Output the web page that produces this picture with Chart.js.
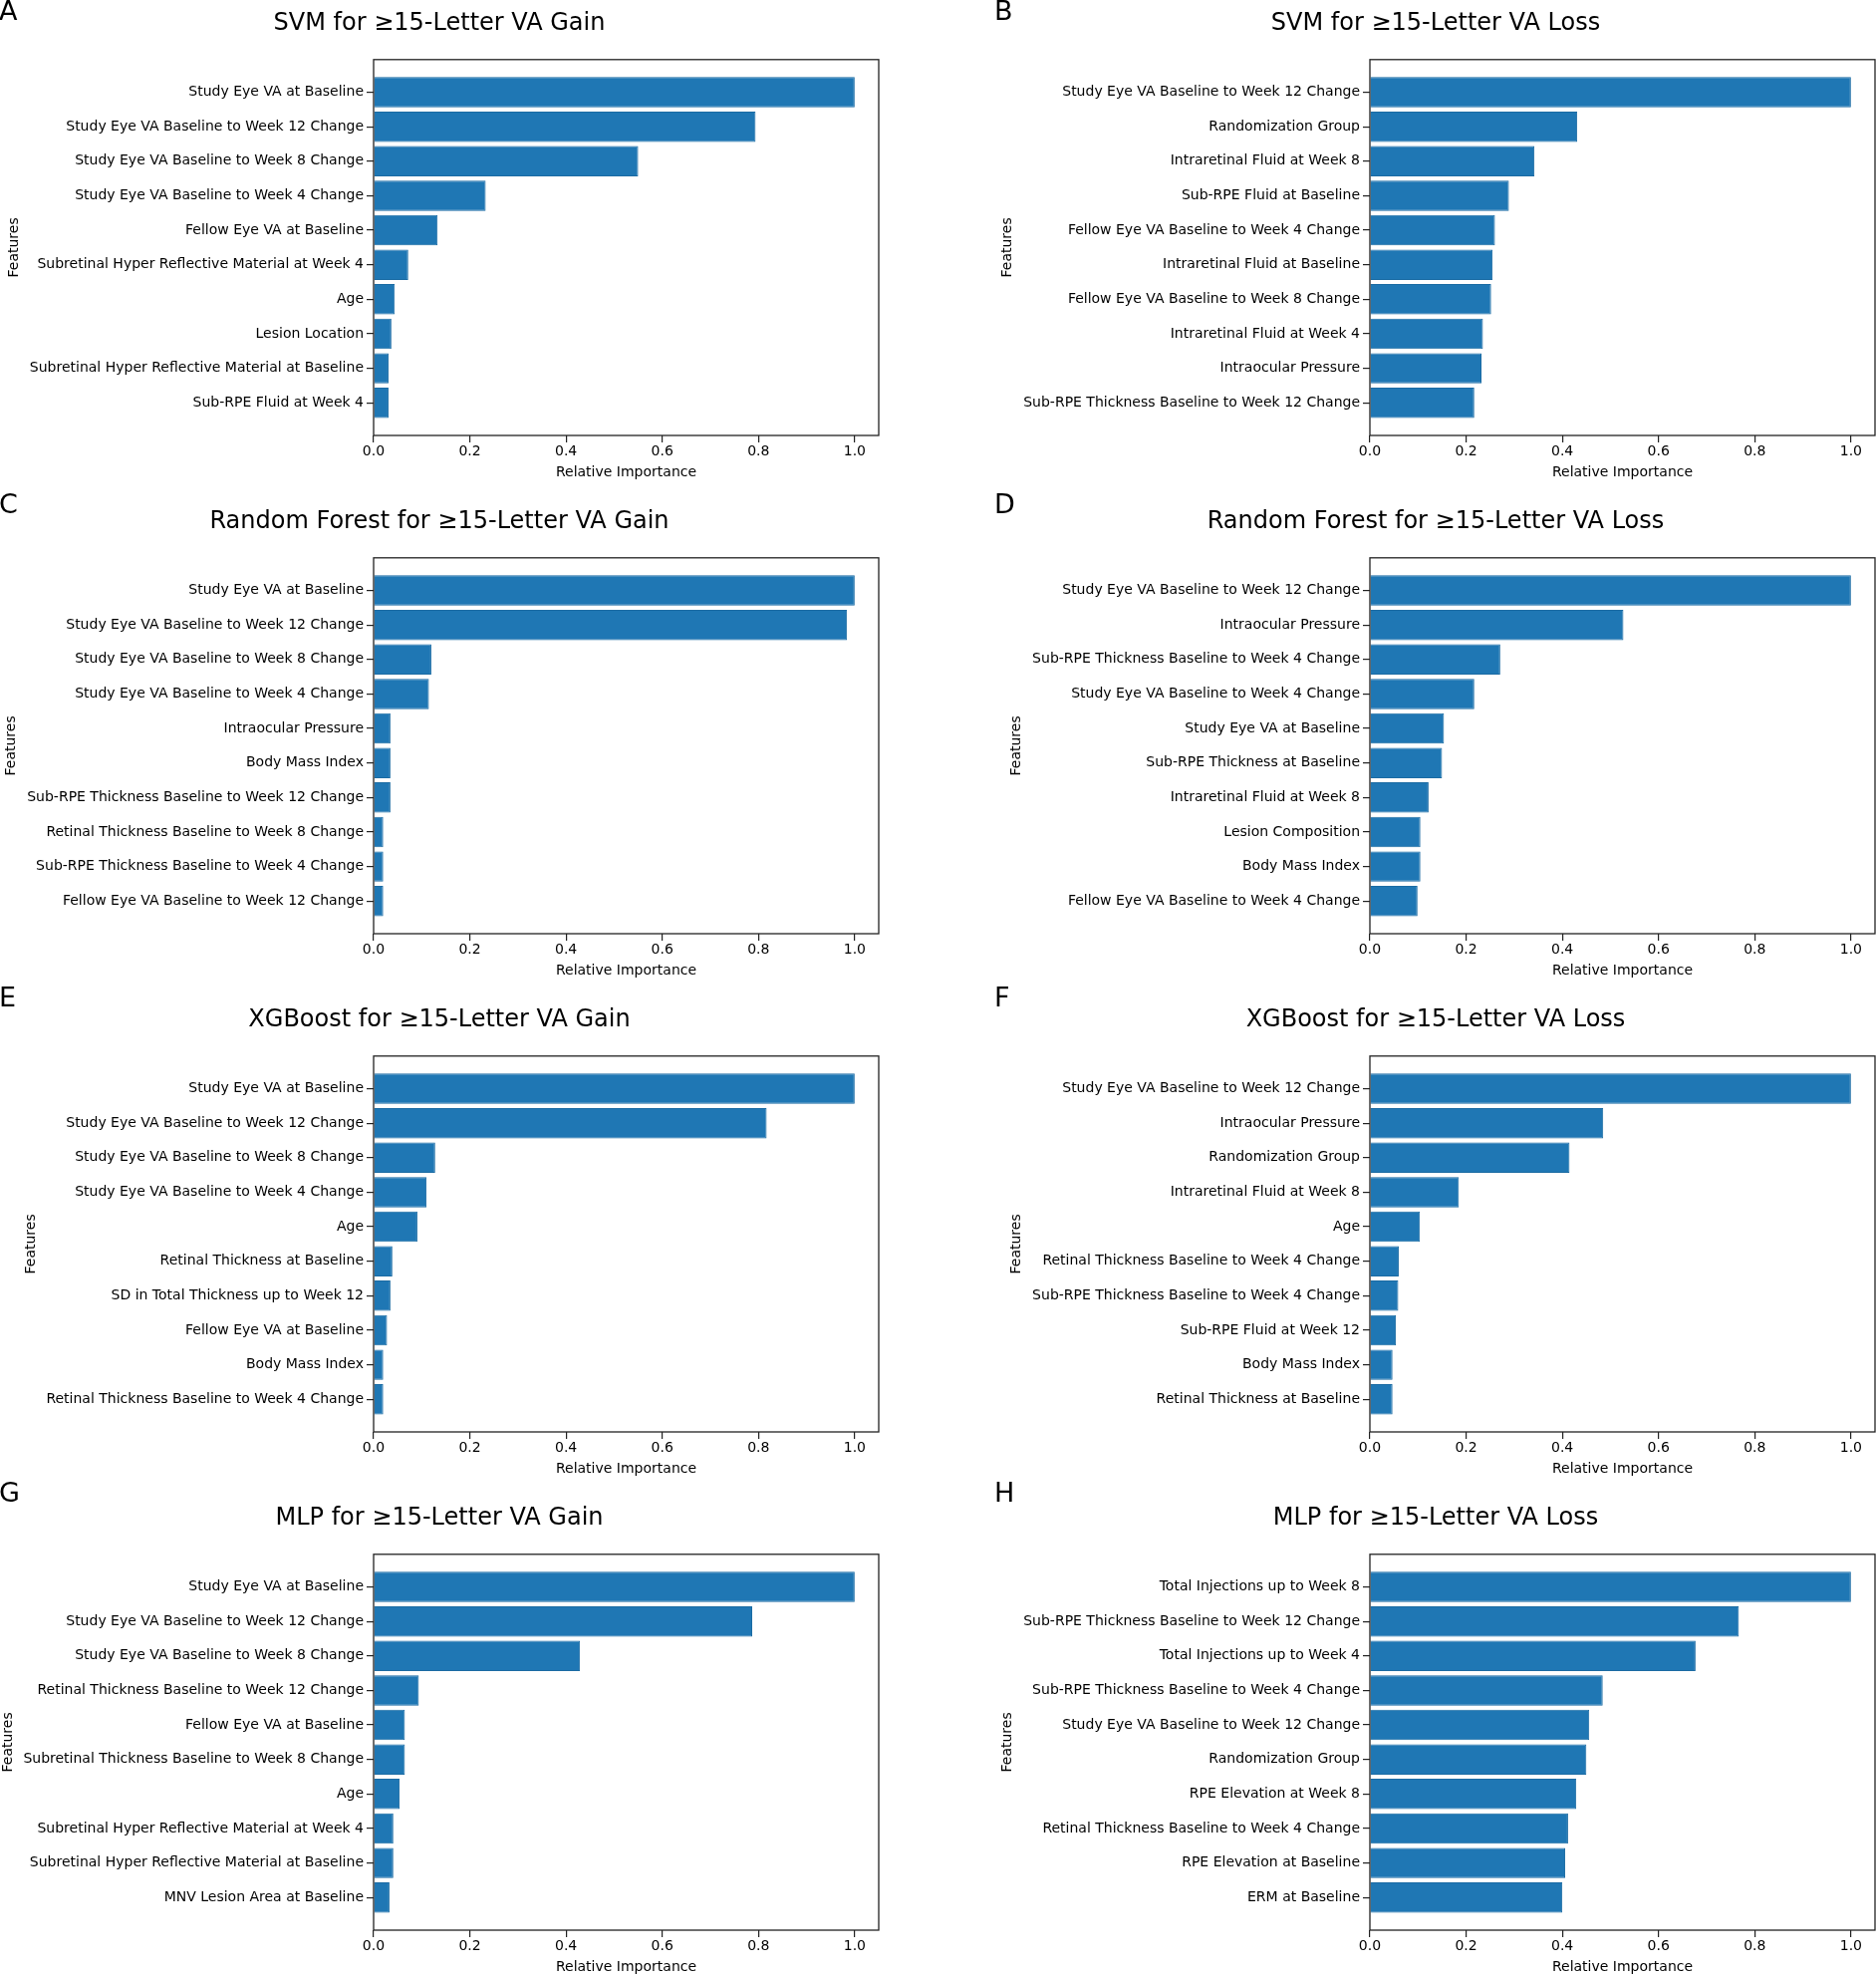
<!DOCTYPE html>
<html>
<head>
<meta charset="utf-8">
<script src="https://cdn.jsdelivr.net/npm/chart.js@4.4.1/dist/chart.umd.min.js"></script>
<style>
  body { margin: 0; width: 1883px; height: 1982px; overflow: hidden; background: #fff; position: relative; font-family: "DejaVu Sans", sans-serif; }
  canvas { position: absolute; }
  .tag { position: absolute; font-size: 27px; line-height: 27px; color: #000; }
</style>
</head>
<body>
<script>
// x axis ticks shared by all panels
var xTicks = [0, 0.2, 0.4, 0.6, 0.8, 1.0];

var svmGainFeatures = ["Study Eye VA at Baseline", "Study Eye VA Baseline to Week 12 Change", "Study Eye VA Baseline to Week 8 Change", "Study Eye VA Baseline to Week 4 Change", "Fellow Eye VA at Baseline", "Subretinal Hyper Reflective Material at Week 4", "Age", "Lesion Location", "Subretinal Hyper Reflective Material at Baseline", "Sub-RPE Fluid at Week 4"];
var svmGainValues = [1.0, 0.794, 0.550, 0.233, 0.133, 0.072, 0.044, 0.037, 0.031, 0.031];

var svmLossFeatures = ["Study Eye VA Baseline to Week 12 Change", "Randomization Group", "Intraretinal Fluid at Week 8", "Sub-RPE Fluid at Baseline", "Fellow Eye VA Baseline to Week 4 Change", "Intraretinal Fluid at Baseline", "Fellow Eye VA Baseline to Week 8 Change", "Intraretinal Fluid at Week 4", "Intraocular Pressure", "Sub-RPE Thickness Baseline to Week 12 Change"];
var svmLossValues = [1.0, 0.431, 0.342, 0.289, 0.260, 0.255, 0.252, 0.235, 0.232, 0.217];

var rfGainFeatures = ["Study Eye VA at Baseline", "Study Eye VA Baseline to Week 12 Change", "Study Eye VA Baseline to Week 8 Change", "Study Eye VA Baseline to Week 4 Change", "Intraocular Pressure", "Body Mass Index", "Sub-RPE Thickness Baseline to Week 12 Change", "Retinal Thickness Baseline to Week 8 Change", "Sub-RPE Thickness Baseline to Week 4 Change", "Fellow Eye VA Baseline to Week 12 Change"];
var rfGainValues = [1.0, 0.984, 0.120, 0.115, 0.035, 0.035, 0.035, 0.020, 0.020, 0.020];

var rfLossFeatures = ["Study Eye VA Baseline to Week 12 Change", "Intraocular Pressure", "Sub-RPE Thickness Baseline to Week 4 Change", "Study Eye VA Baseline to Week 4 Change", "Study Eye VA at Baseline", "Sub-RPE Thickness at Baseline", "Intraretinal Fluid at Week 8", "Lesion Composition", "Body Mass Index", "Fellow Eye VA Baseline to Week 4 Change"];
var rfLossValues = [1.0, 0.527, 0.271, 0.217, 0.154, 0.150, 0.122, 0.105, 0.105, 0.099];

var xgbGainFeatures = ["Study Eye VA at Baseline", "Study Eye VA Baseline to Week 12 Change", "Study Eye VA Baseline to Week 8 Change", "Study Eye VA Baseline to Week 4 Change", "Age", "Retinal Thickness at Baseline", "SD in Total Thickness up to Week 12", "Fellow Eye VA at Baseline", "Body Mass Index", "Retinal Thickness Baseline to Week 4 Change"];
var xgbGainValues = [1.0, 0.817, 0.128, 0.110, 0.091, 0.039, 0.035, 0.028, 0.020, 0.020];

var xgbLossFeatures = ["Study Eye VA Baseline to Week 12 Change", "Intraocular Pressure", "Randomization Group", "Intraretinal Fluid at Week 8", "Age", "Retinal Thickness Baseline to Week 4 Change", "Sub-RPE Thickness Baseline to Week 4 Change", "Sub-RPE Fluid at Week 12", "Body Mass Index", "Retinal Thickness at Baseline"];
var xgbLossValues = [1.0, 0.485, 0.415, 0.185, 0.104, 0.060, 0.059, 0.054, 0.047, 0.047];

var mlpGainFeatures = ["Study Eye VA at Baseline", "Study Eye VA Baseline to Week 12 Change", "Study Eye VA Baseline to Week 8 Change", "Retinal Thickness Baseline to Week 12 Change", "Fellow Eye VA at Baseline", "Subretinal Thickness Baseline to Week 8 Change", "Age", "Subretinal Hyper Reflective Material at Week 4", "Subretinal Hyper Reflective Material at Baseline", "MNV Lesion Area at Baseline"];
var mlpGainValues = [1.0, 0.787, 0.429, 0.094, 0.065, 0.065, 0.054, 0.041, 0.041, 0.033];

var mlpLossFeatures = ["Total Injections up to Week 8", "Sub-RPE Thickness Baseline to Week 12 Change", "Total Injections up to Week 4", "Sub-RPE Thickness Baseline to Week 4 Change", "Study Eye VA Baseline to Week 12 Change", "Randomization Group", "RPE Elevation at Week 8", "Retinal Thickness Baseline to Week 4 Change", "RPE Elevation at Baseline", "ERM at Baseline"];
var mlpLossValues = [1.0, 0.767, 0.677, 0.484, 0.456, 0.450, 0.429, 0.412, 0.406, 0.400];

var panelTags = ["A", "B", "C", "D", "E", "F", "G", "H"];
var panelTitles = ["SVM for ≥15-Letter VA Gain", "SVM for ≥15-Letter VA Loss",
  "Random Forest for ≥15-Letter VA Gain", "Random Forest for ≥15-Letter VA Loss",
  "XGBoost for ≥15-Letter VA Gain", "XGBoost for ≥15-Letter VA Loss",
  "MLP for ≥15-Letter VA Gain", "MLP for ≥15-Letter VA Loss"];
var panelFeatures = [svmGainFeatures, svmLossFeatures, rfGainFeatures, rfLossFeatures, xgbGainFeatures, xgbLossFeatures, mlpGainFeatures, mlpLossFeatures];
var panelValues = [svmGainValues, svmLossValues, rfGainValues, rfLossValues, xgbGainValues, xgbLossValues, mlpGainValues, mlpLossValues];

Chart.defaults.font.family = '"DejaVu Sans"';
Chart.defaults.color = '#000';

// layout of the figure grid
var colLeft = [0, 1000], colWidth = [884, 883];
var rowTop = [0, 500, 1000, 1500];
var tagTop = [-3, 492, 987, 1484];
var tagLeft = [-1, 998];
var axisColor = '#222';

// box around the plot area (matplotlib spines)
var frame = {
  id: 'frame',
  afterDraw: function(chart) {
    var a = chart.chartArea, c = chart.ctx;
    c.save();
    c.strokeStyle = axisColor;
    c.lineWidth = 1.3;
    c.strokeRect(a.left, a.top, a.right - a.left, a.bottom - a.top);
    c.restore();
  }
};

// keep the y title next to the tick labels while the plot area stays fixed
var ytitle = {
  id: 'ytitle',
  afterLayout: function(chart) {
    var y = chart.scales.y;
    if (y._natW) y.left = y.right - y._natW;
  }
};

for (var k = 0; k < 8; k++) {
  (function(k) {
    var col = k % 2, row = Math.floor(k / 2);
    var feats = panelFeatures[k];
    var vals = panelValues[k];

    var tag = document.createElement('div');
    tag.className = 'tag';
    tag.textContent = panelTags[k];
    tag.style.left = tagLeft[col] + 'px';
    tag.style.top = tagTop[row] + 'px';

    var cv = document.createElement('canvas');
    cv.width = colWidth[col];
    cv.height = 500;
    cv.style.left = colLeft[col] + 'px';
    cv.style.top = rowTop[row] + 'px';
    document.body.appendChild(cv);
    document.body.appendChild(tag);

    new Chart(cv, {
      type: 'bar',
      data: {
        datasets: [{
          data: vals.map(function(v, i) { return { x: v, y: i }; }),
          backgroundColor: '#1f77b4',
          borderColor: '#1b6ba3',
          borderWidth: 1,
          barPercentage: 0.88,
          categoryPercentage: 1
        }]
      },
      options: {
        indexAxis: 'y',
        responsive: false,
        animation: false,
        devicePixelRatio: 1,
        layout: { padding: { left: 0, right: colWidth[col] - 882, top: 0, bottom: 0 } },
        plugins: {
          legend: { display: false },
          tooltip: { enabled: false },
          title: {
            display: true,
            text: panelTitles[k],
            color: '#000',
            font: { size: 24, weight: 'normal' },
            padding: { top: 9, bottom: 22 }
          }
        },
        scales: {
          x: {
            type: 'linear',
            min: 0,
            max: 1.05,
            afterBuildTicks: function(s) { s.ticks = xTicks.map(function(v) { return { value: v }; }); },
            afterFit: function(s) { s.height = 63; },
            ticks: {
              font: { size: 14 }, color: '#000', padding: 1, maxRotation: 0, autoSkip: false,
              callback: function(v) { return v.toFixed(1); }
            },
            grid: { drawOnChartArea: false, drawTicks: true, tickLength: 7, color: axisColor, lineWidth: 1.2 },
            border: { display: false },
            title: { display: true, text: 'Relative Importance', color: '#000', font: { size: 14 }, padding: { top: 0, bottom: 17 } }
          },
          y: {
            type: 'linear',
            reverse: true,
            offset: false,
            min: -0.945,
            max: 9.945,
            afterBuildTicks: function(s) { s.ticks = feats.map(function(f, i) { return { value: i }; }); },
            afterFit: function(s) { s._natW = s.width; s.width = 375; },
            ticks: {
              font: { size: 14 }, color: '#000', padding: 3, autoSkip: false,
              callback: function(v) { return feats[v]; }
            },
            grid: { offset: false, drawOnChartArea: false, drawTicks: true, tickLength: 7, color: axisColor, lineWidth: 1.2 },
            border: { display: false },
            title: { display: true, text: 'Features', color: '#000', font: { size: 14 }, padding: { top: 0, bottom: 4 } }
          }
        }
      },
      plugins: [frame, ytitle]
    });
  })(k);
}
</script>
</body>
</html>
